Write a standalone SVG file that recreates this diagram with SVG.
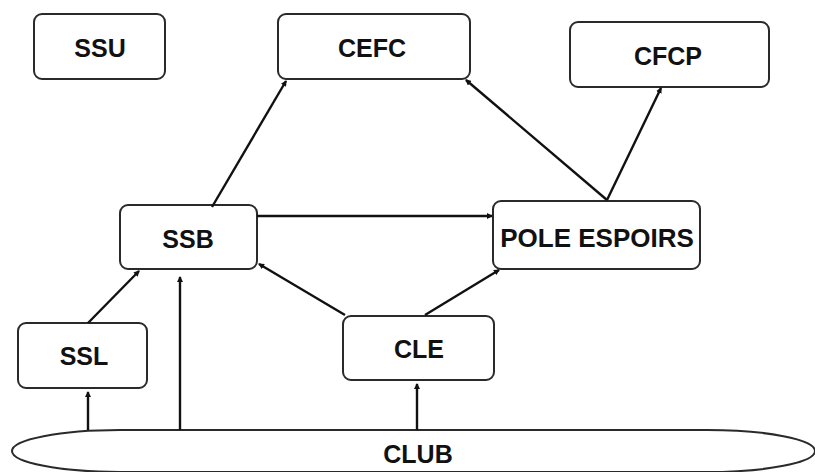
<svg xmlns="http://www.w3.org/2000/svg" width="815" height="472" viewBox="0 0 815 472">
<defs>
<marker id="ah" markerWidth="6" markerHeight="6" refX="5" refY="3" orient="auto" markerUnits="userSpaceOnUse">
<path d="M0,0 L6,3 L0,6 Z" fill="#111"/>
</marker>
<style>
.box{fill:#fff;stroke:#2a2a2a;stroke-width:2}
.lbl{font-family:"Liberation Sans",Arial,sans-serif;font-weight:bold;font-size:25px;fill:#111;text-anchor:middle}
.c{stroke:#111;stroke-width:2.4;fill:none;marker-end:url(#ah)}
</style>
</defs>
<rect width="815" height="472" fill="#fff"/>
<g id="club">
<path class="box" d="M120,430 H707 A108,21 0 0 1 707,472 H120 A108,21 0 0 1 120,430 Z"/>
<text class="lbl" x="418" y="463">CLUB</text>
</g>
<g id="ssu">
<rect class="box" x="34" y="14" width="131" height="65" rx="8"/>
<text class="lbl" x="100" y="57">SSU</text>
</g>
<g id="cefc">
<rect class="box" x="278" y="14" width="192" height="65" rx="8"/>
<text class="lbl" x="372" y="57">CEFC</text>
</g>
<g id="cfcp">
<rect class="box" x="570" y="22" width="199" height="65" rx="8"/>
<text class="lbl" x="668" y="65">CFCP</text>
</g>
<g id="ssb">
<rect class="box" x="120" y="205" width="137" height="64" rx="8"/>
<text class="lbl" x="188" y="248">SSB</text>
</g>
<g id="pole">
<rect class="box" x="493" y="201" width="207" height="68" rx="8"/>
<text class="lbl" x="597" y="247" style="font-size:26px">POLE ESPOIRS</text>
</g>
<g id="ssl">
<rect class="box" x="18" y="323" width="129" height="65" rx="8"/>
<text class="lbl" x="84" y="365">SSL</text>
</g>
<g id="cle">
<rect class="box" x="343" y="316" width="151" height="64" rx="8"/>
<text class="lbl" x="419" y="358">CLE</text>
</g>
<g id="connectors">
<line class="c" x1="212" y1="207" x2="286" y2="81"/>
<line class="c" x1="257" y1="216" x2="492" y2="216"/>
<line class="c" x1="607" y1="200" x2="466" y2="80"/>
<line class="c" x1="607" y1="200" x2="661" y2="88"/>
<line class="c" x1="88" y1="323" x2="139" y2="271"/>
<line class="c" x1="345" y1="315" x2="259" y2="264"/>
<line class="c" x1="425" y1="315" x2="499" y2="270"/>
<line class="c" x1="88" y1="430" x2="88" y2="392"/>
<line class="c" x1="180" y1="430" x2="180" y2="277"/>
<line class="c" x1="417" y1="430" x2="417" y2="384"/>
</g>
</svg>
